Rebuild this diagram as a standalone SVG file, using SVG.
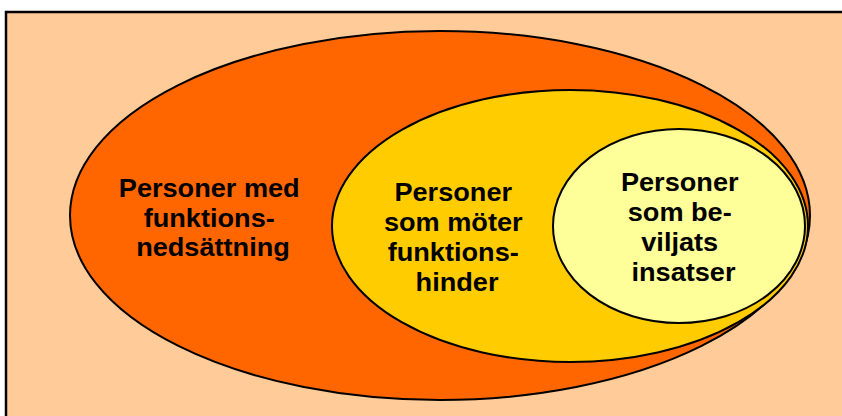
<svg xmlns="http://www.w3.org/2000/svg" width="842" height="416" viewBox="0 0 842 416">
  <style>
    .lbl { font-family: "Liberation Sans", Arial, sans-serif; font-weight: bold; font-size: 25px; fill: #000; text-anchor: middle; }
    .set { stroke: #000; stroke-width: 2; }
  </style>
  <rect x="0" y="0" width="842" height="416" fill="#ffffff"/>
  <rect x="6" y="12" width="860" height="420" fill="#FFCC99" stroke="#000" stroke-width="2.5"/>
  <g id="outer">
    <ellipse class="set" cx="440" cy="215.5" rx="370" ry="184.5" fill="#FF6600"/>
    <text class="lbl" transform="translate(213 0) scale(1.085 1)">
      <tspan x="0" y="197.5">Personer med</tspan>
      <tspan x="0" y="227">funktions-</tspan>
      <tspan x="0" y="256.5">nedsättning</tspan>
    </text>
  </g>
  <g id="middle">
    <ellipse class="set" cx="570" cy="226" rx="238" ry="136" fill="#FFCC00"/>
    <text class="lbl" transform="translate(457 0) scale(1.085 1)">
      <tspan x="0" y="201">Personer</tspan>
      <tspan x="0" y="231.5">som möter</tspan>
      <tspan x="0" y="261.5">funktions-</tspan>
      <tspan x="0" y="291.5">hinder</tspan>
    </text>
  </g>
  <g id="inner">
    <ellipse class="set" cx="679" cy="226" rx="126" ry="97" fill="#FFFF99"/>
    <text class="lbl" transform="translate(683.5 0) scale(1.085 1)">
      <tspan x="0" y="191">Personer</tspan>
      <tspan x="0" y="221.5">som be-</tspan>
      <tspan x="0" y="251.5">viljats</tspan>
      <tspan x="0" y="281.5">insatser</tspan>
    </text>
  </g>
</svg>
